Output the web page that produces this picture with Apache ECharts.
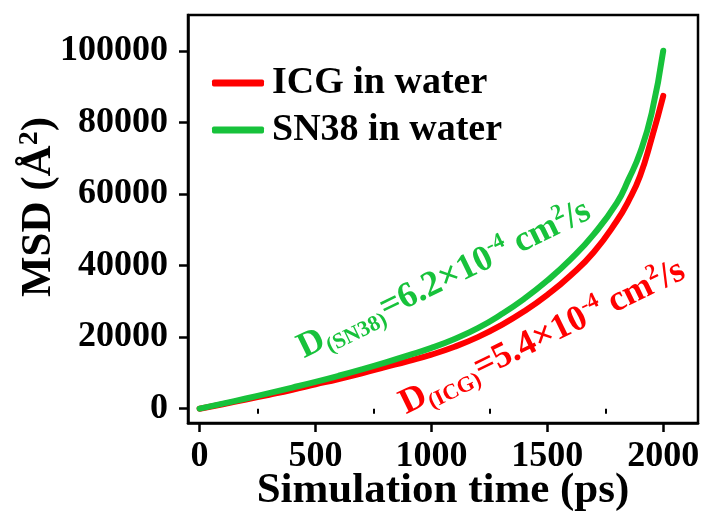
<!DOCTYPE html>
<html>
<head>
<meta charset="utf-8">
<script src="https://cdn.jsdelivr.net/npm/echarts@6/dist/echarts.min.js"></script>
<style>html,body{margin:0;padding:0;background:#fff}#c{width:705px;height:517px}</style>
</head>
<body>
<div id="c"></div>
<script>
const timePs = [0,100,200,300,400,500,600,700,800,900,1000,1100,1200,1300,1400,1500,1600,1700,1800,1850,1900,1950,2000];
const icgMSD = [0,1250,2550,3900,5300,6800,8300,9900,11600,13300,15100,17300,20000,23300,27200,31800,37200,43700,52500,58000,65000,75500,87400];
const sn38MSD = [0,1400,2850,4350,5900,7500,9200,11000,12900,14900,17000,19500,22500,26300,30700,35800,41700,48700,57500,64000,71500,82500,100000];
const xTicks = [0,500,1000,1500,2000];
const xMinorTicks = [250,750,1250,1750];
const yTicks = [0,20000,40000,60000,80000,100000];
const seriesNames = ['ICG in water','SN38 in water'];

const RED = '#ff0000', GREEN = '#17c23b';
const FONT = "'Liberation Serif','Times New Roman',serif";

const chart = echarts.init(document.getElementById('c'), null, {renderer:'canvas'});
const pair = (xs, ys) => xs.map((x,i)=>[x, ys[i]]);
const plain = v => String(v);

const annRich = (color) => ({
  d:{fontSize:36, fontWeight:'bold', fontFamily:FONT, fill:color, color:color, lineHeight:42, verticalAlign:'middle'},
  b:{fontSize:22, fontWeight:'bold', fontFamily:FONT, fill:color, color:color, lineHeight:42, verticalAlign:'bottom'},
  p:{fontSize:22, fontWeight:'bold', fontFamily:FONT, fill:color, color:color, lineHeight:42, verticalAlign:'top'}
});

chart.setOption({
  animation:false,
  backgroundColor:'#fff',
  grid:{left:188, right:7, top:15, bottom:94, show:true, borderColor:'#000', borderWidth:2.5, containLabel:false, outerBoundsMode:'none'},
  legend:{
    data:seriesNames, orient:'vertical', left:207, top:58, itemWidth:52, itemHeight:7, itemGap:7,
    icon:'roundRect',
    textStyle:{fontSize:38, fontWeight:'bold', fontFamily:FONT, color:'#000', lineHeight:40, padding:[0,0,0,3]}
  },
  xAxis:[{
    type:'value', min:-50, max:2150,
    name:'Simulation time (ps)', nameLocation:'middle', nameGap:46, nameMoveOverlap:false,
    nameTextStyle:{fontSize:43, fontWeight:'bold', fontFamily:FONT, color:'#000'},
    axisLine:{show:true, onZero:false, lineStyle:{color:'#000', width:2.5}},
    axisTick:{show:true, length:9, customValues:xTicks, lineStyle:{color:'#000', width:2.5}},
    axisLabel:{customValues:xTicks, formatter:plain, fontSize:36, fontWeight:'bold', fontFamily:FONT, color:'#000', margin:16},
    splitLine:{show:false}
  },{
    type:'value', min:-50, max:2150, position:'bottom',
    axisLine:{show:false},
    axisTick:{show:true, length:5, customValues:xMinorTicks, lineStyle:{color:'#000', width:2}},
    axisLabel:{show:false}, splitLine:{show:false}
  }],
  yAxis:{
    type:'value', min:-4000, max:110000,
    name:'{a|MSD (Å}{s|2}{a|)}', nameLocation:'middle', nameGap:126, nameMoveOverlap:false,
    nameTextStyle:{padding:[0,0,0,24], rich:{
      a:{fontSize:43, fontWeight:'bold', fontFamily:FONT, color:'#000', lineHeight:46, verticalAlign:'middle'},
      s:{fontSize:28, fontWeight:'bold', fontFamily:FONT, color:'#000', lineHeight:46, verticalAlign:'top'}
    }},
    axisLine:{show:true, onZero:false, lineStyle:{color:'#000', width:2.5}},
    axisTick:{show:true, length:9, customValues:yTicks, lineStyle:{color:'#000', width:2.5}},
    axisLabel:{customValues:yTicks, formatter:plain, fontSize:36, fontWeight:'bold', fontFamily:FONT, color:'#000', margin:20},
    splitLine:{show:false}
  },
  series:[
    {name:seriesNames[0], type:'line', data:pair(timePs, icgMSD), showSymbol:false, symbol:'none',
     smooth:0.5, itemStyle:{color:RED}, lineStyle:{color:RED, width:6, cap:'round', join:'round'}},
    {name:seriesNames[1], type:'line', data:pair(timePs, sn38MSD), showSymbol:false, symbol:'none',
     smooth:0.5, itemStyle:{color:GREEN}, lineStyle:{color:GREEN, width:6, cap:'round', join:'round'}}
  ],
  graphic:[
    {type:'text', x:300, y:350, rotation:26*Math.PI/180, silent:true,
     style:{text:'{d|D}{b|(SN38)}{d|=6.2×10}{p|-4}{d| cm}{p|2}{d|/s}', align:'left', verticalAlign:'middle', rich:annRich(GREEN), fill:GREEN}},
    {type:'text', x:402, y:406, rotation:26*Math.PI/180, silent:true,
     style:{text:'{d|D}{b|(ICG)}{d|=5.4×10}{p|-4}{d| cm}{p|2}{d|/s}', align:'left', verticalAlign:'middle', rich:annRich(RED), fill:RED}}
  ]
});
</script>
</body>
</html>
